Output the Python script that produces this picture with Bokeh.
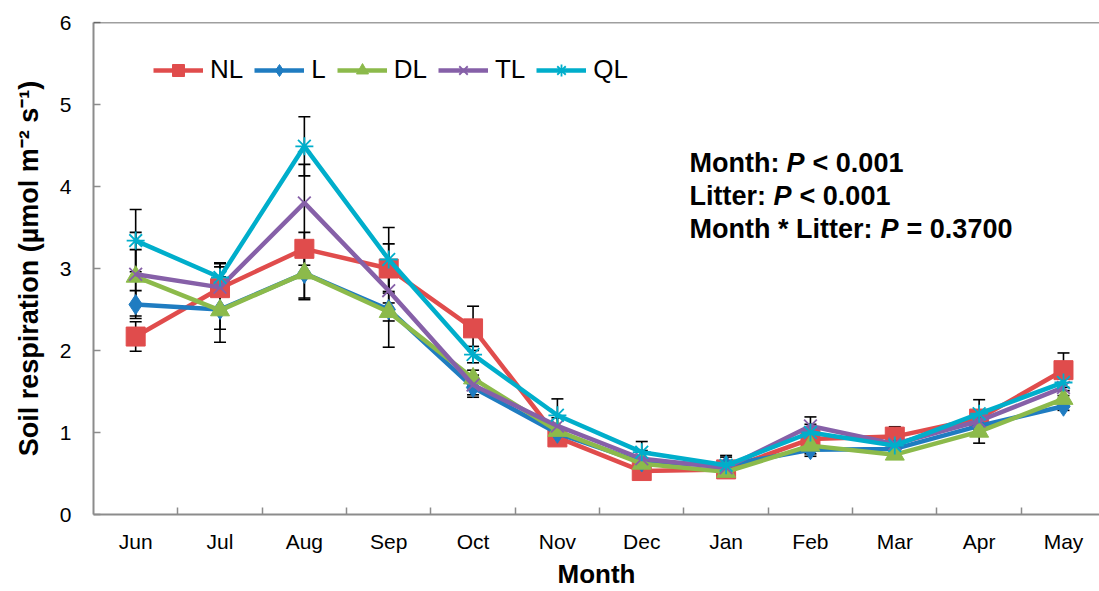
from bokeh.plotting import figure
from bokeh.models import FixedTicker, Legend, LegendItem, Whisker, ColumnDataSource, Span, TeeHead, Range1d
from bokeh.core.properties import value
from bokeh.embed import file_html
from bokeh.resources import INLINE

months = ["Jun", "Jul", "Aug", "Sep", "Oct", "Nov", "Dec", "Jan", "Feb", "Mar", "Apr", "May"]
NL = [2.17, 2.76, 3.24, 3.00, 2.27, 0.94, 0.53, 0.55, 0.92, 0.95, 1.17, 1.76]
L = [2.56, 2.50, 2.94, 2.50, 1.55, 0.99, 0.64, 0.60, 0.79, 0.80, 1.08, 1.32]
DL = [2.90, 2.49, 2.94, 2.47, 1.66, 1.02, 0.62, 0.52, 0.84, 0.73, 1.01, 1.41]
TL = [2.93, 2.77, 3.80, 2.73, 1.58, 1.08, 0.68, 0.57, 1.08, 0.86, 1.14, 1.55]
QL = [3.34, 2.89, 4.49, 3.11, 1.95, 1.21, 0.76, 0.60, 1.00, 0.84, 1.23, 1.61]

NL_err = [0.18, 0.30, 0.20, 0.30, 0.27, 0.05, 0.05, 0.05, 0.10, 0.12, 0.10, 0.21]
L_err = [0.17, 0.40, 0.30, 0.46, 0.12, 0.05, 0.05, 0.10, 0.08, 0.05, 0.10, 0.05]
DL_err = [0.33, 0.23, 0.32, 0.11, 0.10, 0.05, 0.05, 0.05, 0.10, 0.05, 0.14, 0.10]
TL_err = [0.51, 0.25, 0.47, 0.30, 0.12, 0.10, 0.10, 0.05, 0.11, 0.05, 0.10, 0.10]
QL_err = [0.38, 0.18, 0.36, 0.39, 0.10, 0.20, 0.13, 0.12, 0.10, 0.10, 0.17, 0.10]

series_names = ["NL", "L", "DL", "TL", "QL"]
series_vals = [NL, L, DL, TL, QL]
series_errs = [NL_err, L_err, DL_err, TL_err, QL_err]
colors = ["#E04C4C", "#1F7CC1", "#8CBA4B", "#8660A8", "#00AECB"]
markers = ["square", "diamond", "triangle", "x", "asterisk"]
msizes = [19, 20, 19, 18, 18]

ann_prefix = ["Month: ", "Litter: ", "Month * Litter: "]
ann_suffix = ["< 0.001", "< 0.001", "= 0.3700"]

FONT = "Liberation Sans"

p = figure(width=1099, height=591, output_backend="svg", toolbar_location=None,
           x_range=Range1d(-0.5, 11.427), y_range=Range1d(0, 6),
           min_border_left=93, min_border_right=0, min_border_top=22, min_border_bottom=77)
p.outline_line_color = None
p.grid.visible = False
p.background_fill_color = "white"
p.border_fill_color = "white"

xs = list(range(len(months)))

items = []
for name, vals, errs, col, mk, ms in zip(series_names, series_vals, series_errs, colors, markers, msizes):
    src = ColumnDataSource(dict(x=xs, y=vals,
                                upper=[v + e for v, e in zip(vals, errs)],
                                lower=[v - e for v, e in zip(vals, errs)]))
    w = Whisker(base="x", upper="upper", lower="lower", source=src, level="underlay",
                line_color="black", line_width=1.6,
                upper_head=TeeHead(size=12, line_color="black", line_width=1.6),
                lower_head=TeeHead(size=12, line_color="black", line_width=1.6))
    p.add_layout(w)
for name, vals, errs, col, mk, ms in zip(series_names, series_vals, series_errs, colors, markers, msizes):
    src = ColumnDataSource(dict(x=xs, y=vals))
    r1 = p.line("x", "y", source=src, line_color=col, line_width=4.5)
    lw = 1.8 if mk in ("x", "asterisk") else 1
    r2 = p.scatter("x", "y", source=src, marker=mk, size=ms, fill_color=col,
                   line_color=col, line_width=lw)
    items.append(LegendItem(label=name, renderers=[r1, r2]))

legend = Legend(items=items, orientation="horizontal", location=(60, 429),
                glyph_width=50, glyph_height=30, label_height=30, label_width=10,
                label_standoff=7, spacing=11, padding=0, margin=0, border_line_color=None,
                background_fill_alpha=0, label_text_font=FONT,
                label_text_font_size="26px", label_text_color="black")
p.add_layout(legend)

# top frame line
p.add_layout(Span(location=6, dimension="width", line_color="#404040", line_width=1.5))

# axes
ax = p.xaxis[0]
ax.ticker = FixedTicker(ticks=xs, minor_ticks=[i + 0.5 for i in range(11)])
ax.major_label_overrides = {i: m for i, m in enumerate(months)}
ax.major_tick_line_color = None
ax.minor_tick_in = 7
ax.minor_tick_out = 0
ax.minor_tick_line_color = "#8C8C8C"
ax.minor_tick_line_width = 1.5
ax.axis_line_color = "#8C8C8C"
ax.axis_line_width = 2
ax.major_label_text_font = FONT
ax.major_label_text_font_size = "21px"
ax.major_label_text_color = "black"
ax.major_label_standoff = 9
ax.axis_label = "Month"
ax.axis_label_text_font = FONT
ax.axis_label_text_font_size = "26px"
ax.axis_label_text_font_style = "bold"
ax.axis_label_text_color = "black"
ax.axis_label_standoff = 3

ay = p.yaxis[0]
ay.ticker = FixedTicker(ticks=[0, 1, 2, 3, 4, 5, 6])
ay.major_tick_in = 7
ay.major_tick_out = 0
ay.major_tick_line_color = "#8C8C8C"
ay.major_tick_line_width = 1.5
ay.minor_tick_line_color = None
ay.axis_line_color = "#8C8C8C"
ay.axis_line_width = 2
ay.major_label_text_font = FONT
ay.major_label_text_font_size = "21px"
ay.major_label_text_color = "black"
ay.major_label_standoff = 22
ay.axis_label = "Soil respiration (µmol m⁻² s⁻¹)"
ay.axis_label_text_font = FONT
ay.axis_label_text_font_size = "27px"
ay.axis_label_text_font_style = "bold"
ay.axis_label_text_color = "black"
ay.axis_label_standoff = 13

# statistics annotation
ax0 = (689 - 135) / 84.36
base_y = [(514 - 162) / 82, (514 - 195) / 82, (514 - 228) / 82]
fs = 27
p_off = [97, 84, 191]
s_off = [123, 110, 217]
p.text(x=[ax0] * 3, y=base_y, text=ann_prefix, text_font=value(FONT), text_font_size=f"{fs}px",
       text_font_style="bold", text_color="black", text_baseline="alphabetic", text_align="left")
p.text(x=[ax0] * 3, y=base_y, text=["P"] * 3, x_offset=p_off, text_font=value(FONT),
       text_font_size=f"{fs}px", text_font_style="bold italic", text_color="black",
       text_baseline="alphabetic", text_align="left")
p.text(x=[ax0] * 3, y=base_y, text=ann_suffix, x_offset=s_off, text_font=value(FONT),
       text_font_size=f"{fs}px", text_font_style="bold", text_color="black",
       text_baseline="alphabetic", text_align="left")

open("out.html", "w").write(file_html(p, INLINE))
